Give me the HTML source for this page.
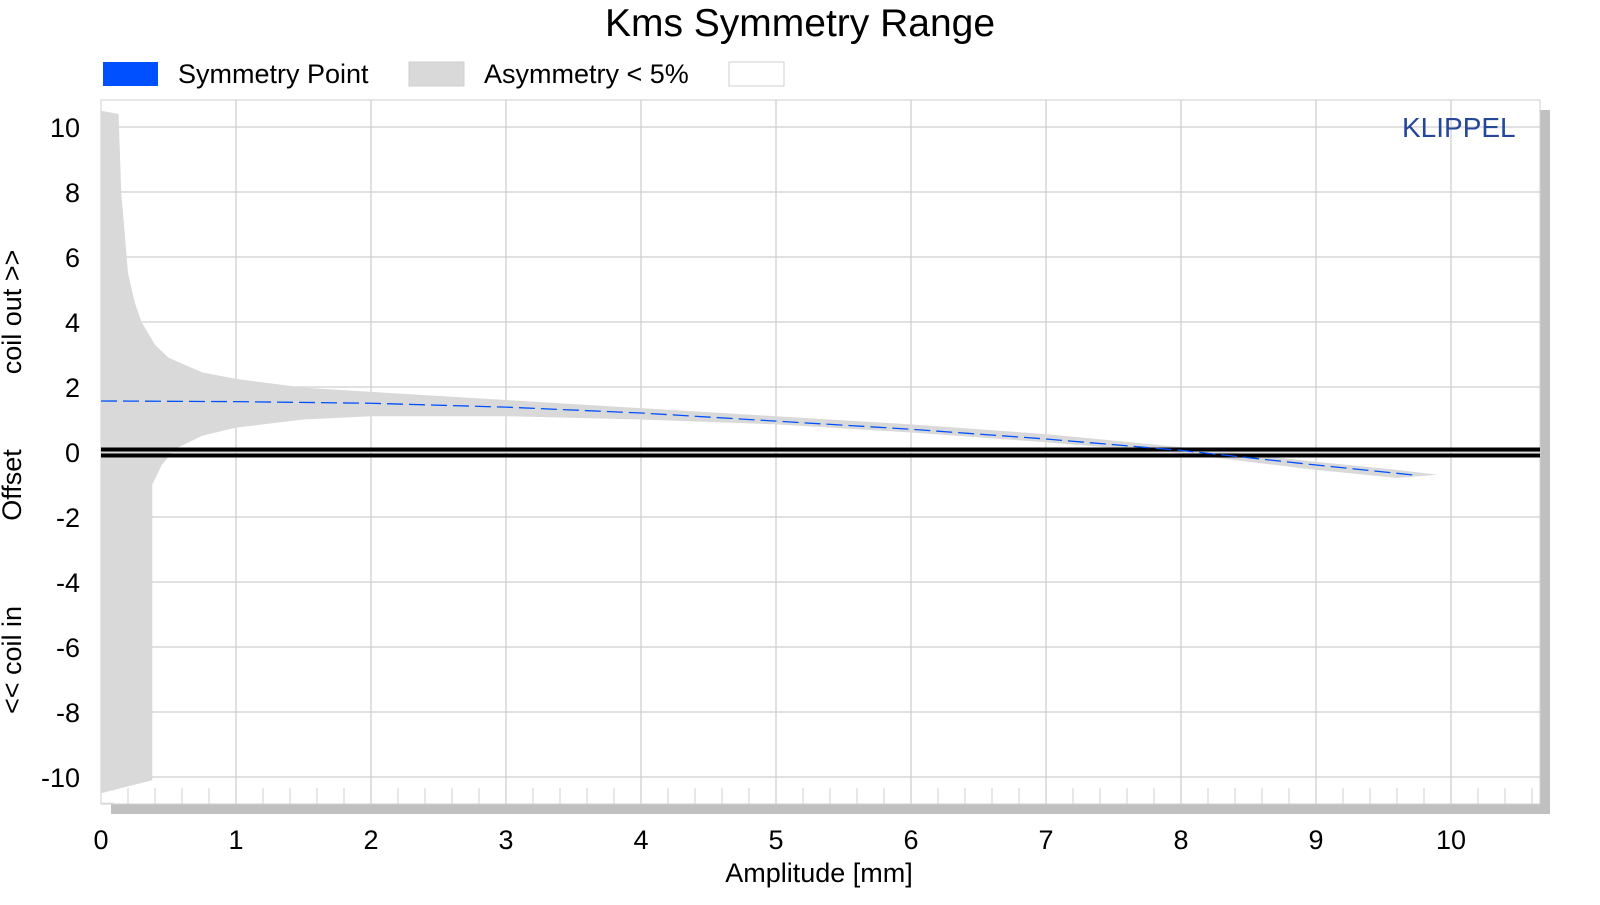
<!DOCTYPE html>
<html><head><meta charset="utf-8"><style>
body{margin:0;background:#fff;font-family:"Liberation Sans",Arial,sans-serif;}
svg text{font-family:"Liberation Sans",Arial,sans-serif;}
</style></head><body>
<svg id="chart" width="1600" height="900" xmlns="http://www.w3.org/2000/svg">
<text x="800" y="36" font-size="39" text-anchor="middle" fill="#000">Kms Symmetry Range</text>
<g>
<rect x="103" y="62" width="55" height="24" fill="#0050ff"/>
<text x="178" y="83" font-size="27">Symmetry Point</text>
<rect x="409" y="62" width="55" height="24" fill="#d9d9d9" stroke="#cfcfcf"/>
<text x="484" y="83" font-size="27">Asymmetry &lt; 5%</text>
<rect x="729" y="62" width="55" height="24" fill="#fff" stroke="#cfcfcf"/>
</g>
<rect x="1540" y="110" width="10" height="704" fill="#c0c0c0"/>
<rect x="111" y="804" width="1439" height="10" fill="#c0c0c0"/>
<rect x="101" y="100" width="1439" height="704" fill="#fff" stroke="#cfcfcf"/>
<g id="grid"></g>
<g id="band"></g>
<g id="zero"></g>
<g id="sym"></g>
<g id="ticks"></g>
<text x="1402" y="137" font-size="28" fill="#24479a">KLIPPEL</text>
<text x="819" y="882" font-size="27" text-anchor="middle">Amplitude [mm]</text>
<g font-size="27">
<text transform="translate(21,312) rotate(-90)" text-anchor="middle">coil out &gt;&gt;</text>
<text transform="translate(21,485) rotate(-90)" text-anchor="middle">Offset</text>
<text transform="translate(21,660) rotate(-90)" text-anchor="middle">&lt;&lt; coil in</text>
</g>
</svg>
<script>
const xTicks=[0,1,2,3,4,5,6,7,8,9,10];
const yTicks=[10,8,6,4,2,0,-2,-4,-6,-8,-10];
const upperX=[0,0.13,0.15,0.2,0.25,0.3,0.4,0.5,0.75,1,1.5,2,3,4,5,6,7,8,9,9.6,9.9];
const upperY=[10.5,10.4,8,5.5,4.6,4.0,3.3,2.9,2.45,2.25,1.98,1.85,1.6,1.35,1.1,0.85,0.55,0.15,-0.3,-0.55,-0.7];
const lowerX=[0,0.38,0.38,0.45,0.55,0.75,1,1.5,2,3,4,5,6,7,8,9,9.6,9.9];
const lowerY=[-10.5,-10.1,-1,-0.4,0.1,0.5,0.75,1.0,1.1,1.1,1.0,0.85,0.6,0.3,-0.05,-0.55,-0.8,-0.7];
const symX=[0,1,2,3,4,5,6,7,8,9,9.75];
const symY=[1.57,1.55,1.5,1.38,1.2,0.95,0.7,0.4,0.05,-0.4,-0.72];
const NS="http://www.w3.org/2000/svg";
const X=v=>101+v*135, Y=v=>452-v*32.5;
function mk(t,a,p){const e=document.createElementNS(NS,t);for(const k in a)e.setAttribute(k,a[k]);p.appendChild(e);return e;}
const grid=document.getElementById('grid');
xTicks.forEach(v=>{if(v===0)return;const l=mk('line',{x1:X(v),x2:X(v),y1:100,y2:804,stroke:'#cfcfcf','stroke-width':1.3},grid);

});
yTicks.forEach(v=>{const l=mk('line',{x1:101,x2:1540,y1:Y(v),y2:Y(v),stroke:'#cfcfcf','stroke-width':1.3},grid);

});
for(let v=0.2;v<10.65;v+=0.2){const l=mk('line',{x1:X(v),x2:X(v),y1:788,y2:804,stroke:'#cfcfcf','stroke-width':1},grid);

}
for(let v=-10.8;v<10.6;v+=0.4){const l=mk('line',{x1:101,x2:114,y1:Y(v),y2:Y(v),stroke:'#e4e4e4','stroke-width':1},grid);

}
let pts=upperX.map((x,i)=>X(x)+','+Y(upperY[i]));
for(let i=lowerX.length-1;i>=0;i--)pts.push(X(lowerX[i])+','+Y(lowerY[i]));
const band=mk('polygon',{points:pts.join(' '),fill:'#d9d9d9'},document.getElementById('band'));


const z=document.getElementById('zero');
[449.5,455.5].forEach(y=>{const l=mk('line',{x1:101,x2:1540,y1:y,y2:y,stroke:'#000','stroke-width':4},z);

});
const sl=mk('polyline',{points:symX.map((x,i)=>X(x)+','+Y(symY[i])).join(' '),fill:'none',stroke:'#0050ff','stroke-width':1.3,'stroke-dasharray':'16 6'},document.getElementById('sym'));


const tk=document.getElementById('ticks');
xTicks.forEach(v=>{const t=mk('text',{x:X(v),y:849,'font-size':27,'text-anchor':'middle'},tk);t.textContent=v;

});
yTicks.forEach(v=>{const t=mk('text',{x:80,y:Y(v)+10,'font-size':27,'text-anchor':'end'},tk);t.textContent=v;

});
</script>
</body></html>
